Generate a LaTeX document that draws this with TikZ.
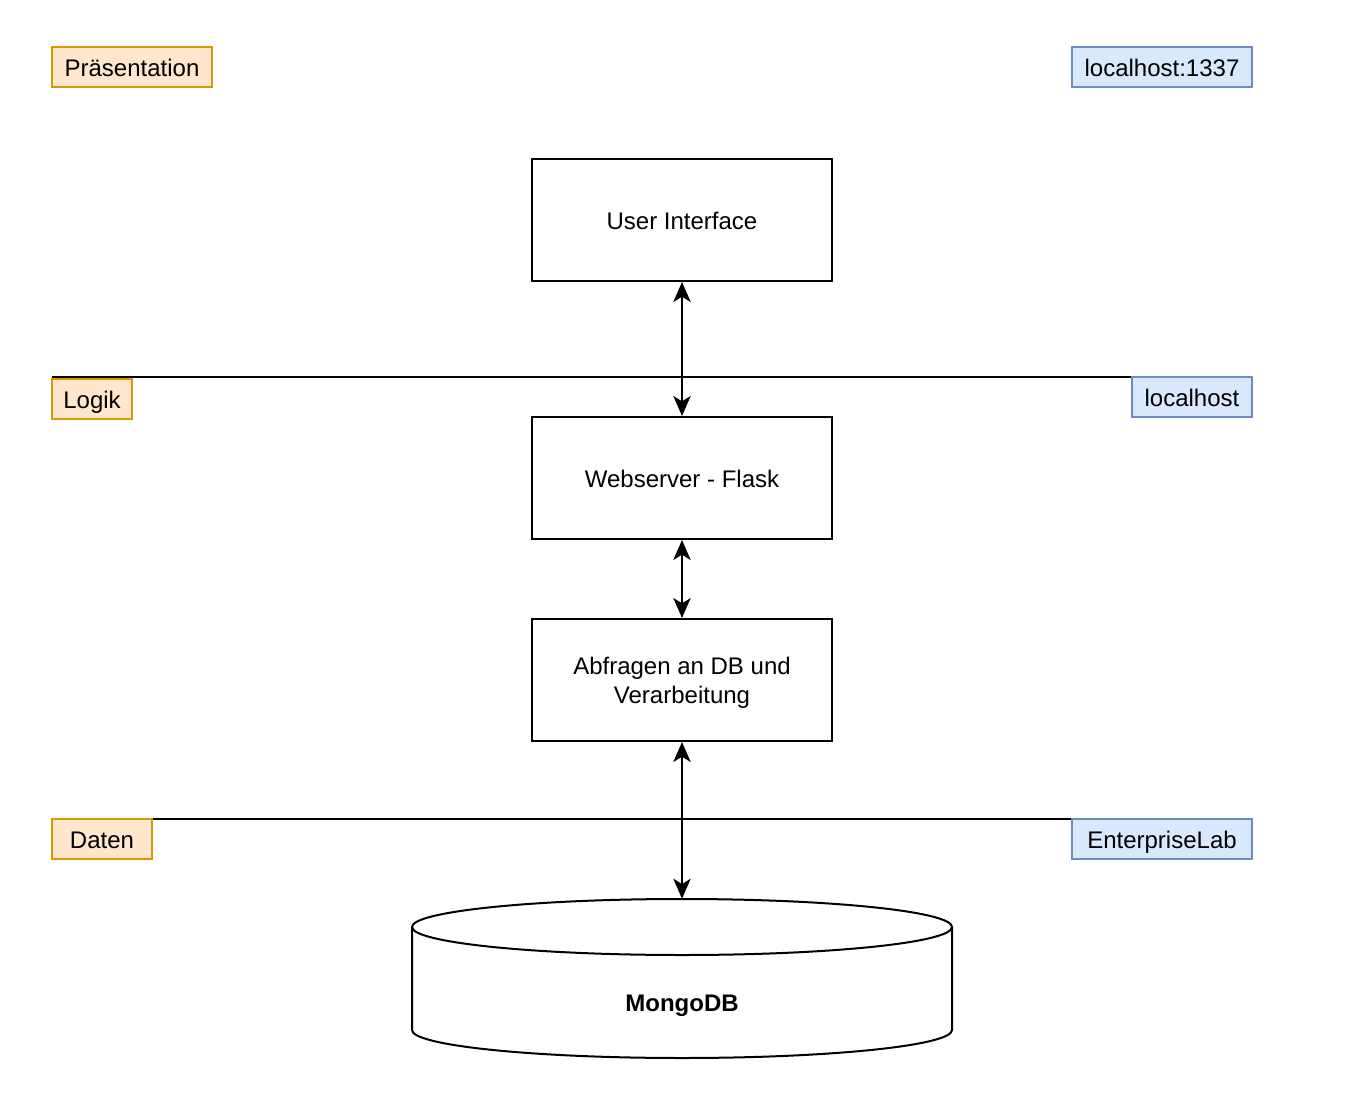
\documentclass[tikz,border=0pt]{standalone}
\usepackage{fontspec}
\setmainfont{Liberation Sans}
\usetikzlibrary{arrows.meta}
\definecolor{orfill}{HTML}{FFE6CC}
\definecolor{ordraw}{HTML}{D79B00}
\definecolor{blfill}{HTML}{DAE8FC}
\definecolor{bldraw}{HTML}{6C8EBF}
\begin{document}
\begin{tikzpicture}[x=0.75pt,y=-0.75pt,
  font=\fontsize{18}{21.5}\selectfont,
  oneline/.style={text height=14.5pt,text depth=0pt},
  mainbox/.style={draw=black,fill=white,line width=1.5pt,minimum width=225pt,minimum height=91.5pt,inner sep=0pt,align=center},
  orlabel/.style={oneline,draw=ordraw,fill=orfill,line width=1.5pt,minimum height=30pt,inner sep=0pt},
  bllabel/.style={oneline,draw=bldraw,fill=blfill,line width=1.5pt,minimum height=30pt,inner sep=0pt},
  layerline/.style={draw=black,line width=1.5pt},
  arr/.style={draw=black,line width=1.5pt,{Stealth[length=15pt,width=13pt,inset=4pt]}-{Stealth[length=15pt,width=13pt,inset=4pt]}}
]
\useasboundingbox (0,0) rectangle (1365,1114);

% main boxes
\node[mainbox,oneline] (ui) at (682,220) {User Interface};
\node[mainbox,oneline] (web) at (682,478) {Webserver - Flask};
\node[mainbox] (abf) at (682,680) {};
\node[align=center,inner sep=0pt] (abftext) at (682,682.5) {Abfragen an DB und\\Verarbeitung};

% database cylinder
\node[minimum width=405pt,minimum height=119.25pt,inner sep=0pt] (db) at (682,978.5) {};
\coordinate (topc) at (682,927);
\coordinate (botl) at (412,1030);
\fill[white] (412,927) -- (botl) arc[start angle=180,end angle=360,x radius=202.5pt,y radius=21pt] -- (952,927) -- cycle;
\draw[line width=1.5pt,fill=white] (topc) ellipse[x radius=202.5pt,y radius=21pt];
\draw[line width=1.5pt] (412,927) -- (botl) arc[start angle=180,end angle=360,x radius=202.5pt,y radius=21pt] -- (952,927);
\node[oneline,font=\fontsize{18}{21.5}\selectfont\bfseries] (dblabel) at (682,1002) {MongoDB};

% right labels (nodes first so lines can refer to them)
\node[bllabel,minimum width=135pt] (lh1337) at (1162,67) {localhost:1337};
\node[bllabel,minimum width=90pt] (lh) at (1192,397) {localhost};
\node[bllabel,minimum width=135pt] (elab) at (1162,839) {EnterpriseLab};

% layer lines
\coordinate (l1) at (52,377);
\coordinate (l2) at (52,819);
\path[layerline] (l1) -- (l1 -| lh.west);
\path[layerline] (l2) -- (l2 -| elab.west);

% left labels
\node[orlabel,minimum width=120pt] (pres) at (132,67) {Präsentation};
\node[orlabel,minimum width=60pt] (logik) at (92,398.5) {Logik};
\node[orlabel,minimum width=75pt] (daten) at (102,839) {Daten};

% connectors
\path[arr] (ui.south) -- (web.north);
\path[arr] (web.south) -- (abf.north);
\path[arr] (abf.south) -- (db.north);
\end{tikzpicture}
\end{document}
